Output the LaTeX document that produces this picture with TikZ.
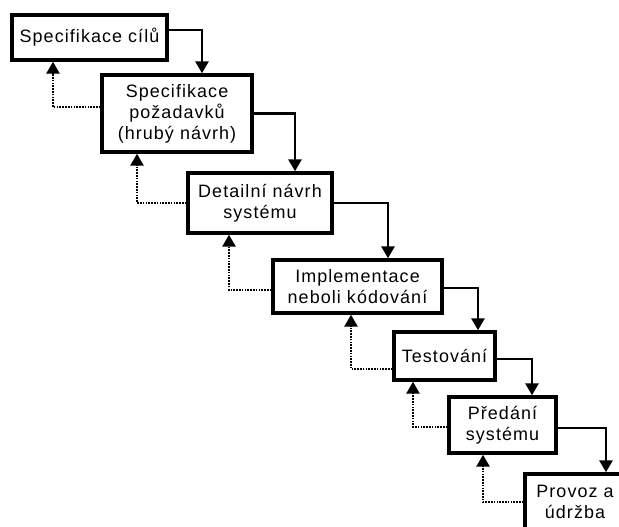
\documentclass[tikz,border=0pt]{standalone}
\usepackage{fontspec}
\setmainfont{Liberation Sans}[LetterSpace=6]
\usetikzlibrary{arrows.meta}
\begin{document}
\begin{tikzpicture}[x=1bp,y=-1bp,
  stage/.style={draw=black,line width=3.4bp,fill=white,inner sep=0pt,align=center,
    font=\fontsize{18}{21}\selectfont},
  fwd/.style={line width=2.8bp,-{Triangle[width=13bp,length=12bp]}},
  fb/.style={line width=2.6bp,dash pattern=on 1.6bp off 1.2bp,-{Triangle[width=13bp,length=12bp]}}]
\useasboundingbox (0,0) rectangle (619,527);
\clip (0,0) rectangle (619,527);
\fill[white] (0,0) rectangle (619,527);
\node[stage,minimum width=155bp,minimum height=45bp] (b1) at (89.5,37.5) {Specifikace cílů};
\node[stage,minimum width=150bp,minimum height=77bp] (b2) at (177,113.5) {Specifikace\\požadavků\\(hrubý návrh)};
\node[stage,minimum width=144bp,minimum height=60bp] (b3) at (260,203) {Detailní návrh\\systému};
\node[stage,minimum width=169bp,minimum height=53bp] (b4) at (357.5,286.5) {Implementace\\neboli kódování};
\node[stage,minimum width=101bp,minimum height=48bp] (b5) at (444.5,356) {Testování};
\node[stage,minimum width=107bp,minimum height=56bp] (b6) at (502.5,425) {Předání\\systému};
\node[stage,minimum width=100bp,minimum height=56bp] (b7) at (575,502) {Provoz a\\údržba};
% corner columns
\coordinate (c12) at (202,0);
\coordinate (c23) at (295,0);
\coordinate (c34) at (388,0);
\coordinate (c45) at (478,0);
\coordinate (c56) at (532,0);
\coordinate (c67) at (606,0);
\coordinate (d21) at (53,0);
\coordinate (d32) at (137,0);
\coordinate (d43) at (229,0);
\coordinate (d54) at (351,0);
\coordinate (d65) at (413,0);
\coordinate (d76) at (483,0);
% forward arrows
\draw[fwd] ([yshift=7.5bp]b1.east) -| (b2.north -| c12);
\draw[fwd] (b2.east) -| (b3.north -| c23);
\draw[fwd] (b3.east) -| (b4.north -| c34);
\draw[fwd] ([yshift=-1.5bp]b4.east) -| (b5.north -| c45);
\draw[fwd] ([yshift=-3bp]b5.east) -| (b6.north -| c56);
\draw[fwd] ([yshift=-3bp]b6.east) -| (b7.north -| c67);
% feedback arrows
\draw[fb] ([yshift=6.5bp]b2.west) -| (b1.south -| d21);
\draw[fb] (b3.west) -| (b2.south -| d32);
\draw[fb] ([yshift=-3.5bp]b4.west) -| (b3.south -| d43);
\draw[fb] ([yshift=-13bp]b5.west) -| (b4.south -| d54);
\draw[fb] ([yshift=-2bp]b6.west) -| (b5.south -| d65);
\draw[fb] (b7.west) -| (b6.south -| d76);
\end{tikzpicture}
\end{document}
